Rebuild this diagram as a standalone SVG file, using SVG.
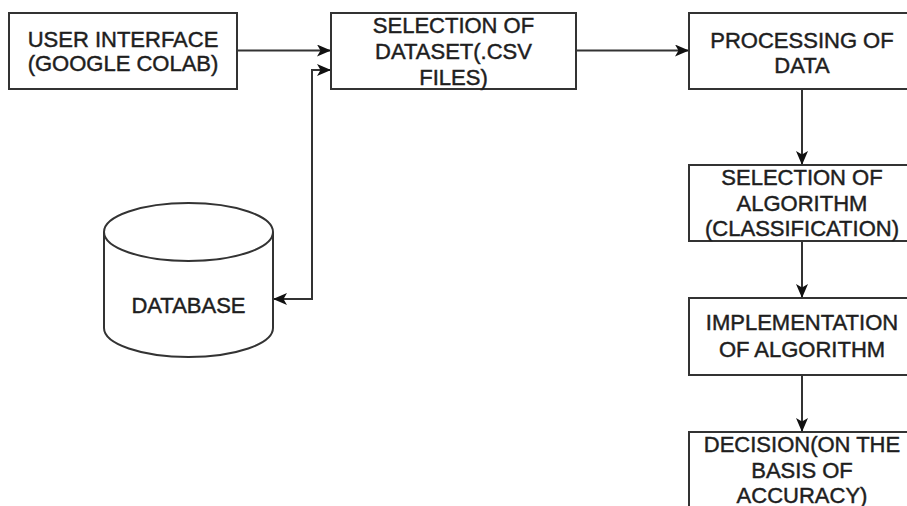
<svg xmlns="http://www.w3.org/2000/svg" width="907" height="506" viewBox="0 0 907 506">
  <style>
    .box { fill: #ffffff; stroke: #333333; stroke-width: 2; }
    .lbl { font-family: "Liberation Sans", Arial, sans-serif; font-size: 22px; fill: #1e1e1e; stroke: #1e1e1e; stroke-width: 0.45; text-anchor: middle; }
    .edge { fill: none; stroke: #333333; stroke-width: 2; }
  </style>
  <defs>
    <marker id="arrow" viewBox="0 0 14 12" refX="13" refY="6" markerWidth="14" markerHeight="12" markerUnits="userSpaceOnUse" orient="auto-start-reverse">
      <path d="M0,0 L14,6 L0,12 L3.5,6 Z" fill="#111111"/>
    </marker>
  </defs>
  <rect width="907" height="506" fill="#ffffff"/>

  <g id="connectors">
    <path class="edge" d="M237,50.5 L330,50.5" marker-end="url(#arrow)"/>
    <path class="edge" d="M274,299 L312,299 L312,70 L330,70" marker-start="url(#arrow)" marker-end="url(#arrow)"/>
    <path class="edge" d="M576,50.5 L688,50.5" marker-end="url(#arrow)"/>
    <path class="edge" d="M802,89 L802,164" marker-end="url(#arrow)"/>
    <path class="edge" d="M802,241 L802,297" marker-end="url(#arrow)"/>
    <path class="edge" d="M802,375 L802,431" marker-end="url(#arrow)"/>
  </g>

  <g id="user-interface">
    <rect class="box" x="9" y="13" width="228" height="76"/>
    <text class="lbl" x="123" y="47">USER INTERFACE</text>
    <text class="lbl" x="123" y="71">(GOOGLE COLAB)</text>
  </g>

  <g id="selection-dataset">
    <rect class="box" x="331" y="13" width="245" height="76"/>
    <text class="lbl" x="453.5" y="33">SELECTION OF</text>
    <text class="lbl" x="453.5" y="59">DATASET(.CSV</text>
    <text class="lbl" x="453.5" y="85">FILES)</text>
  </g>

  <g id="processing">
    <rect class="box" x="689" y="13" width="226" height="76"/>
    <text class="lbl" x="802" y="48">PROCESSING OF</text>
    <text class="lbl" x="802" y="73">DATA</text>
  </g>

  <g id="selection-algorithm">
    <rect class="box" x="689" y="165" width="226" height="76"/>
    <text class="lbl" x="802" y="185">SELECTION OF</text>
    <text class="lbl" x="802" y="211">ALGORITHM</text>
    <text class="lbl" x="802" y="236">(CLASSIFICATION)</text>
  </g>

  <g id="implementation">
    <rect class="box" x="689" y="298" width="226" height="77"/>
    <text class="lbl" x="802" y="330">IMPLEMENTATION</text>
    <text class="lbl" x="802" y="357">OF ALGORITHM</text>
  </g>

  <g id="decision">
    <rect class="box" x="689" y="432" width="226" height="90"/>
    <text class="lbl" x="802" y="452">DECISION(ON THE</text>
    <text class="lbl" x="802" y="478">BASIS OF</text>
    <text class="lbl" x="802" y="503">ACCURACY)</text>
  </g>

  <g id="database">
    <path class="box" d="M104,232 A84.5,29 0 0 1 273,232 L273,328 A84.5,29 0 0 1 104,328 Z"/>
    <path class="edge" d="M104,232 A84.5,29 0 0 0 273,232"/>
    <text class="lbl" x="188.5" y="313">DATABASE</text>
  </g>
</svg>
